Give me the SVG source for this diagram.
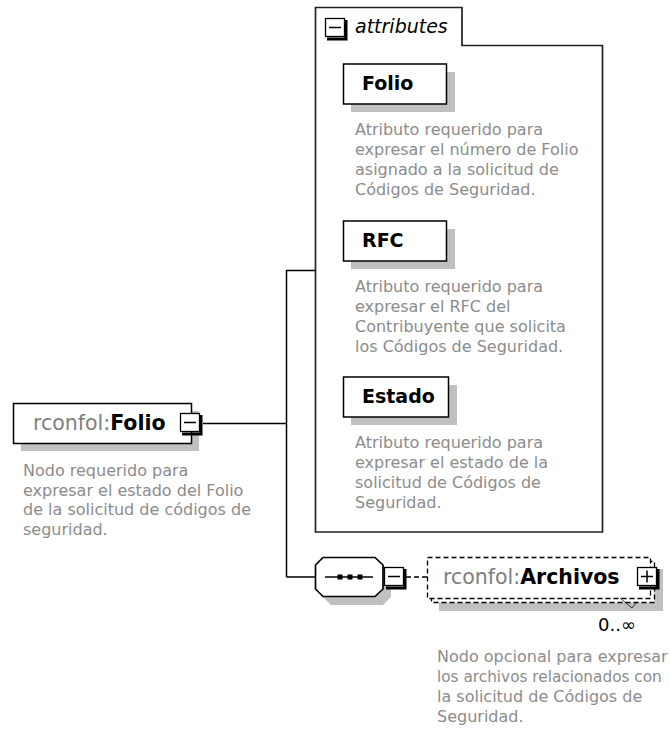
<svg xmlns="http://www.w3.org/2000/svg" width="670" height="734" viewBox="0 0 670 734">
<style>
.bx{fill:#fff;stroke:#000;stroke-width:1.5}
.sh{fill:#c0c0c0;stroke:none}
.ln{fill:none;stroke:#000;stroke-width:1.5}
.dsh{fill:#fff;stroke:#000;stroke-width:1.3;stroke-dasharray:5,3}
.lbl{font-family:"DejaVu Sans",sans-serif;font-size:20.5px;fill:#000}
.pre{fill:#808080;font-weight:normal}
.b{font-weight:bold}
.att{font-family:"DejaVu Sans",sans-serif;font-size:19px;font-weight:bold;fill:#000}
.desc{font-family:"DejaVu Sans",sans-serif;font-size:16px;fill:#8c8c8c}
.btn{fill:#fff;stroke:#000;stroke-width:1.3}
.bsh{fill:none;stroke:#000;stroke-width:3}
</style>
<defs>
<g id="btnbase">
<rect class="btn" x="0.5" y="0.5" width="19" height="18"/>
<path class="bsh" d="M21,2 V21 H2"/>
<path class="ln" d="M4,9.5 H16"/>
</g>
</defs>

<g id="connectors">
<path class="ln" d="M203,423.5 H286.5 M286.5,270 V577 M286.5,270.5 H316 M286.5,577 H315"/>
<path class="ln" d="M406,577 H427" style="stroke-dasharray:5,3"/>
</g>

<g id="attributes">
<path d="M315.5,532 V7.5 H462 V45.5 H602.5 V532 Z" fill="#fff" stroke="#222" stroke-width="1.7"/>
<use href="#btnbase" x="325" y="18"/>
<text x="355" y="33" font-family="DejaVu Sans, sans-serif" font-size="19" font-style="italic" fill="#000">attributes</text>
</g>

<g id="attr-folio">
<rect class="sh" x="351" y="72" width="104" height="40"/>
<rect class="bx" x="343.5" y="64" width="103" height="40"/>
<text class="att" x="362" y="90">Folio</text>
<text class="desc"><tspan x="355" y="135">Atributo requerido para</tspan><tspan x="355" y="155">expresar el número de Folio</tspan><tspan x="355" y="175">asignado a la solicitud de</tspan><tspan x="355" y="195">Códigos de Seguridad.</tspan></text>
</g>

<g id="attr-rfc">
<rect class="sh" x="351" y="229" width="104" height="40"/>
<rect class="bx" x="343.5" y="221" width="103" height="40"/>
<text class="att" x="362" y="247">RFC</text>
<text class="desc"><tspan x="355" y="292">Atributo requerido para</tspan><tspan x="355" y="312">expresar el RFC del</tspan><tspan x="355" y="332">Contribuyente que solicita</tspan><tspan x="355" y="352">los Códigos de Seguridad.</tspan></text>
</g>

<g id="attr-estado">
<rect class="sh" x="351" y="385" width="106" height="40"/>
<rect class="bx" x="343.5" y="377" width="105" height="40"/>
<text class="att" x="362" y="403">Estado</text>
<text class="desc"><tspan x="355" y="448">Atributo requerido para</tspan><tspan x="355" y="468">expresar el estado de la</tspan><tspan x="355" y="488">solicitud de Códigos de</tspan><tspan x="355" y="508">Seguridad.</tspan></text>
</g>

<g id="folio">
<rect class="sh" x="21" y="411" width="178" height="40"/>
<rect class="bx" x="13.5" y="403.5" width="178" height="40"/>
<text class="lbl" x="33" y="430"><tspan class="pre">rconfol:</tspan><tspan class="b">Folio</tspan></text>
<use href="#btnbase" x="180" y="413"/>
<text class="desc"><tspan x="23" y="476">Nodo requerido para</tspan><tspan x="23" y="495.5">expresar el estado del Folio</tspan><tspan x="23" y="515">de la solicitud de códigos de</tspan><tspan x="23" y="534.5">seguridad.</tspan></text>
</g>

<g id="sequence">
<polygon class="sh" points="331,565 383,565 391,573 391,597 383,605 331,605 323,597 323,573"/>
<polygon class="bx" points="323,557.5 375,557.5 383,565 383,589 375,596.5 323,596.5 315.5,589 315.5,565" style="stroke-width:1.7"/>
<path class="ln" d="M325,577 H373"/>
<rect x="337.5" y="574.5" width="5" height="5" fill="#000"/>
<rect x="347.5" y="574.5" width="5" height="5" fill="#000"/>
<rect x="357.5" y="574.5" width="5" height="5" fill="#000"/>
<use href="#btnbase" x="384" y="567"/>
</g>

<g id="archivos">
<rect class="sh" x="439" y="569" width="224" height="42"/>
<rect class="dsh" x="431.5" y="561.5" width="223" height="41"/>
<rect class="dsh" x="427.5" y="557.5" width="223" height="41"/>
<path d="M620,598 L632,608 L636,603" fill="none" stroke="#333" stroke-width="1"/>
<text class="lbl" x="443" y="584"><tspan class="pre">rconfol:</tspan><tspan class="b">Archivos</tspan></text>
<rect class="btn" x="637.5" y="567.5" width="19" height="18"/>
<path class="bsh" d="M658,569 V588 H639"/>
<path class="ln" d="M641,576.5 H653 M647,570.5 V582.5"/>
<text x="598" y="631" font-family="DejaVu Sans, sans-serif" font-size="18" fill="#000">0..∞</text>
<text class="desc"><tspan x="437" y="662">Nodo opcional para expresar</tspan><tspan x="437" y="682" style="font-size:15.3px">los archivos relacionados con</tspan><tspan x="437" y="702">la solicitud de Códigos de</tspan><tspan x="437" y="722">Seguridad.</tspan></text>
</g>
</svg>
